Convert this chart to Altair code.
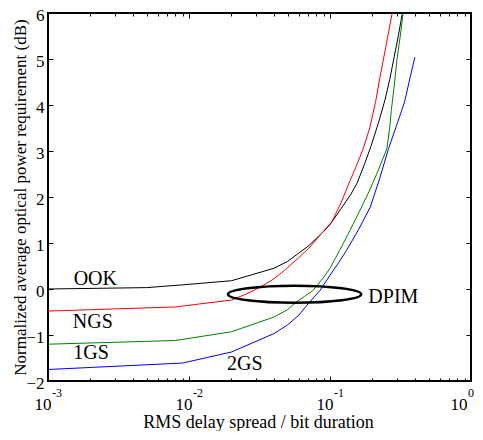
import altair as alt
import pandas as pd

# ---------------- data ----------------
ook_x = [0.001, 0.005, 0.009, 0.02, 0.04, 0.05, 0.06, 0.07, 0.08, 0.09, 0.1, 0.12, 0.14,
         0.155, 0.175, 0.195, 0.22, 0.245, 0.265, 0.282, 0.305, 0.326]
ook_y = [0.0, 0.03, 0.09, 0.18, 0.45, 0.60, 0.78, 0.93, 1.10, 1.25, 1.40, 1.75, 2.05,
         2.29, 2.70, 3.10, 3.60, 4.10, 4.55, 4.97, 5.50, 6.0]

ngs_x = [0.001, 0.008, 0.02, 0.025, 0.032, 0.04, 0.049, 0.06, 0.072, 0.085, 0.103, 0.12,
         0.139, 0.155, 0.172, 0.192, 0.21, 0.226, 0.25, 0.276]
ngs_y = [-0.48, -0.39, -0.24, -0.12, 0.04, 0.22, 0.44, 0.68, 0.91, 1.17, 1.46, 1.88,
         2.36, 2.70, 3.05, 3.52, 4.05, 4.60, 5.30, 6.0]

g1_x = [0.001, 0.008, 0.02, 0.04, 0.05, 0.0567, 0.066, 0.076, 0.09, 0.1, 0.117, 0.14,
        0.163, 0.19, 0.215, 0.235, 0.253, 0.265, 0.272, 0.285, 0.298, 0.315, 0.33]
g1_y = [-1.20, -1.12, -0.93, -0.61, -0.45, -0.30, -0.16, -0.03, 0.25, 0.45, 0.84, 1.30,
        1.71, 2.13, 2.51, 2.80, 3.05, 3.50, 3.88, 4.40, 4.97, 5.50, 6.0]

g2_x = [0.001, 0.009, 0.02, 0.04, 0.05, 0.06, 0.07, 0.085, 0.1, 0.115, 0.131, 0.16,
        0.193, 0.225, 0.26, 0.30, 0.32, 0.34, 0.37, 0.40]
g2_y = [-1.75, -1.61, -1.37, -0.97, -0.78, -0.57, -0.32, -0.03, 0.30, 0.57, 0.84, 1.30,
        1.78, 2.40, 3.05, 3.60, 3.85, 4.10, 4.60, 5.04]

series_names = ["OOK", "NGS", "1GS", "2GS"]
series_colors = ["#000000", "#ff0000", "#008000", "#0000ff"]

label_text = ["OOK", "NGS", "1GS", "2GS", "DPIM"]
label_x = [0.00152, 0.0015, 0.00151, 0.0186, 0.187]
label_y = [0.09, -0.84, -1.53, -1.77, -0.30]

ellipse_x = [0.0561]
ellipse_y = [-0.115]

x_major = [0.001, 0.01, 0.1, 1]
x_exponents = ["-3", "-2", "-1", "0"]
x_minor = [m * d for d in [0.001, 0.01, 0.1] for m in range(2, 10)]
y_ticks = [-2, -1, 0, 1, 2, 3, 4, 5, 6]

# ---------------- tables ----------------
rows = []
for name, xs, ys in zip(series_names, [ook_x, ngs_x, g1_x, g2_x], [ook_y, ngs_y, g1_y, g2_y]):
    for xv, yv in zip(xs, ys):
        rows.append({"series": name, "x": xv, "y": yv})
lines_df = pd.DataFrame(rows)
labels_df = pd.DataFrame({"x": label_x, "y": label_y, "t": label_text})
ell_df = pd.DataFrame({"x": ellipse_x, "y": ellipse_y})
exp_df = pd.DataFrame({"x": x_major[:-1], "t": x_exponents[:-1]})
exp_last_df = pd.DataFrame({"x": x_major[-1:], "t": x_exponents[-1:]})

FONT = "Liberation Serif"
W, H = 423, 368

xscale = alt.Scale(type="log", domain=[0.001, 1], nice=False)
yscale = alt.Scale(domain=[-2, 6], nice=False, zero=False)


def tick_axis(orient, values, size):
    return alt.Axis(orient=orient, values=values, offset=-size, tickSize=size,
                    ticks=True, labels=False, domain=False, grid=False, title=None,
                    tickColor="black", tickWidth=1)


x_label_axis = alt.Axis(
    orient="bottom", values=x_major, labelExpr="'10'", ticks=False, tickSize=0,
    domain=False, grid=False, labelPadding=28, labelBaseline="alphabetic",
    labelAlign="right",
    labelOffset={"condition": {"test": "datum.value >= 1", "value": -4}, "value": 3},
    labelFont=FONT, labelFontSize=17,
    labelColor="black", labelFlush=False, labelOverlap=False,
    title="RMS delay spread / bit duration", titleFont=FONT, titleFontSize=18,
    titleFontWeight="normal", titleColor="black", titleBaseline="alphabetic",
    titleX=210, titleY=46)

y_label_axis = alt.Axis(
    orient="left", values=y_ticks, ticks=False, tickSize=0, domain=False,
    grid=False, labelPadding=4, labelFont=FONT, labelFontSize=17,
    labelColor="black", labelBaseline="middle", labelOffset=2, labelFlush=False,
    labelOverlap=False,
    title="Normalized average optical power requirement (dB)", titleFont=FONT,
    titleFontSize=17, titleFontWeight="normal", titleColor="black",
    titleBaseline="alphabetic", titleAngle=270, titleAlign="center",
    titleX=-23, titleY=H / 2)

lines = alt.Chart(lines_df).mark_line(strokeWidth=1, clip=True).encode(
    x=alt.X("x:Q", scale=xscale, axis=x_label_axis),
    y=alt.Y("y:Q", scale=yscale, axis=y_label_axis),
    color=alt.Color("series:N", scale=alt.Scale(domain=series_names, range=series_colors), legend=None),
    detail="series:N",
)

labels = alt.Chart(labels_df).mark_text(
    font=FONT, fontSize=20, align="left", baseline="alphabetic", color="black"
).encode(
    x=alt.X("x:Q", scale=xscale, axis=tick_axis("bottom", x_major, 5)),
    y=alt.Y("y:Q", scale=yscale, axis=tick_axis("left", y_ticks, 5)),
    text="t:N",
)

ellipse = alt.Chart(ell_df).mark_point(
    shape="M -1 0 A 1 0.128 0 1 1 1 0 A 1 0.128 0 1 1 -1 0 Z",
    size=17742, filled=False, stroke="black", strokeWidth=2.5, opacity=1
).encode(
    x=alt.X("x:Q", scale=xscale, axis=tick_axis("bottom", x_minor, 3)),
    y=alt.Y("y:Q", scale=yscale, axis=tick_axis("right", y_ticks, 5)),
)

carrier_top_major = alt.Chart(ell_df).mark_point(opacity=0).encode(
    x=alt.X("x:Q", scale=xscale, axis=tick_axis("top", x_major, 5)),
    y=alt.Y("y:Q", scale=yscale, axis=None),
)

carrier_top_minor = alt.Chart(ell_df).mark_point(opacity=0).encode(
    x=alt.X("x:Q", scale=xscale, axis=tick_axis("top", x_minor, 3)),
    y=alt.Y("y:Q", scale=yscale, axis=None),
)

exponents = alt.Chart(exp_df).mark_text(
    font=FONT, fontSize=12, align="left", baseline="alphabetic", dx=4, dy=16,
    color="black"
).encode(
    x=alt.X("x:Q", scale=xscale, axis=None),
    y=alt.value(H),
    text="t:N",
)

exponent_last = alt.Chart(exp_last_df).mark_text(
    font=FONT, fontSize=12, align="left", baseline="alphabetic", dx=-3, dy=16,
    color="black"
).encode(
    x=alt.X("x:Q", scale=xscale, axis=None),
    y=alt.value(H),
    text="t:N",
)

chart = alt.layer(
    lines, labels, ellipse, carrier_top_major, carrier_top_minor, exponents,
    exponent_last
).resolve_axis(
    x="independent", y="independent"
).properties(
    width=W, height=H,
    autosize=alt.AutoSizeParams(type="none"),
    padding={"left": 40, "top": 5, "right": 4, "bottom": 50},
).configure_view(
    stroke="black", strokeWidth=2
)

chart.save("out.html", embed_options={"renderer": "svg", "actions": False})
